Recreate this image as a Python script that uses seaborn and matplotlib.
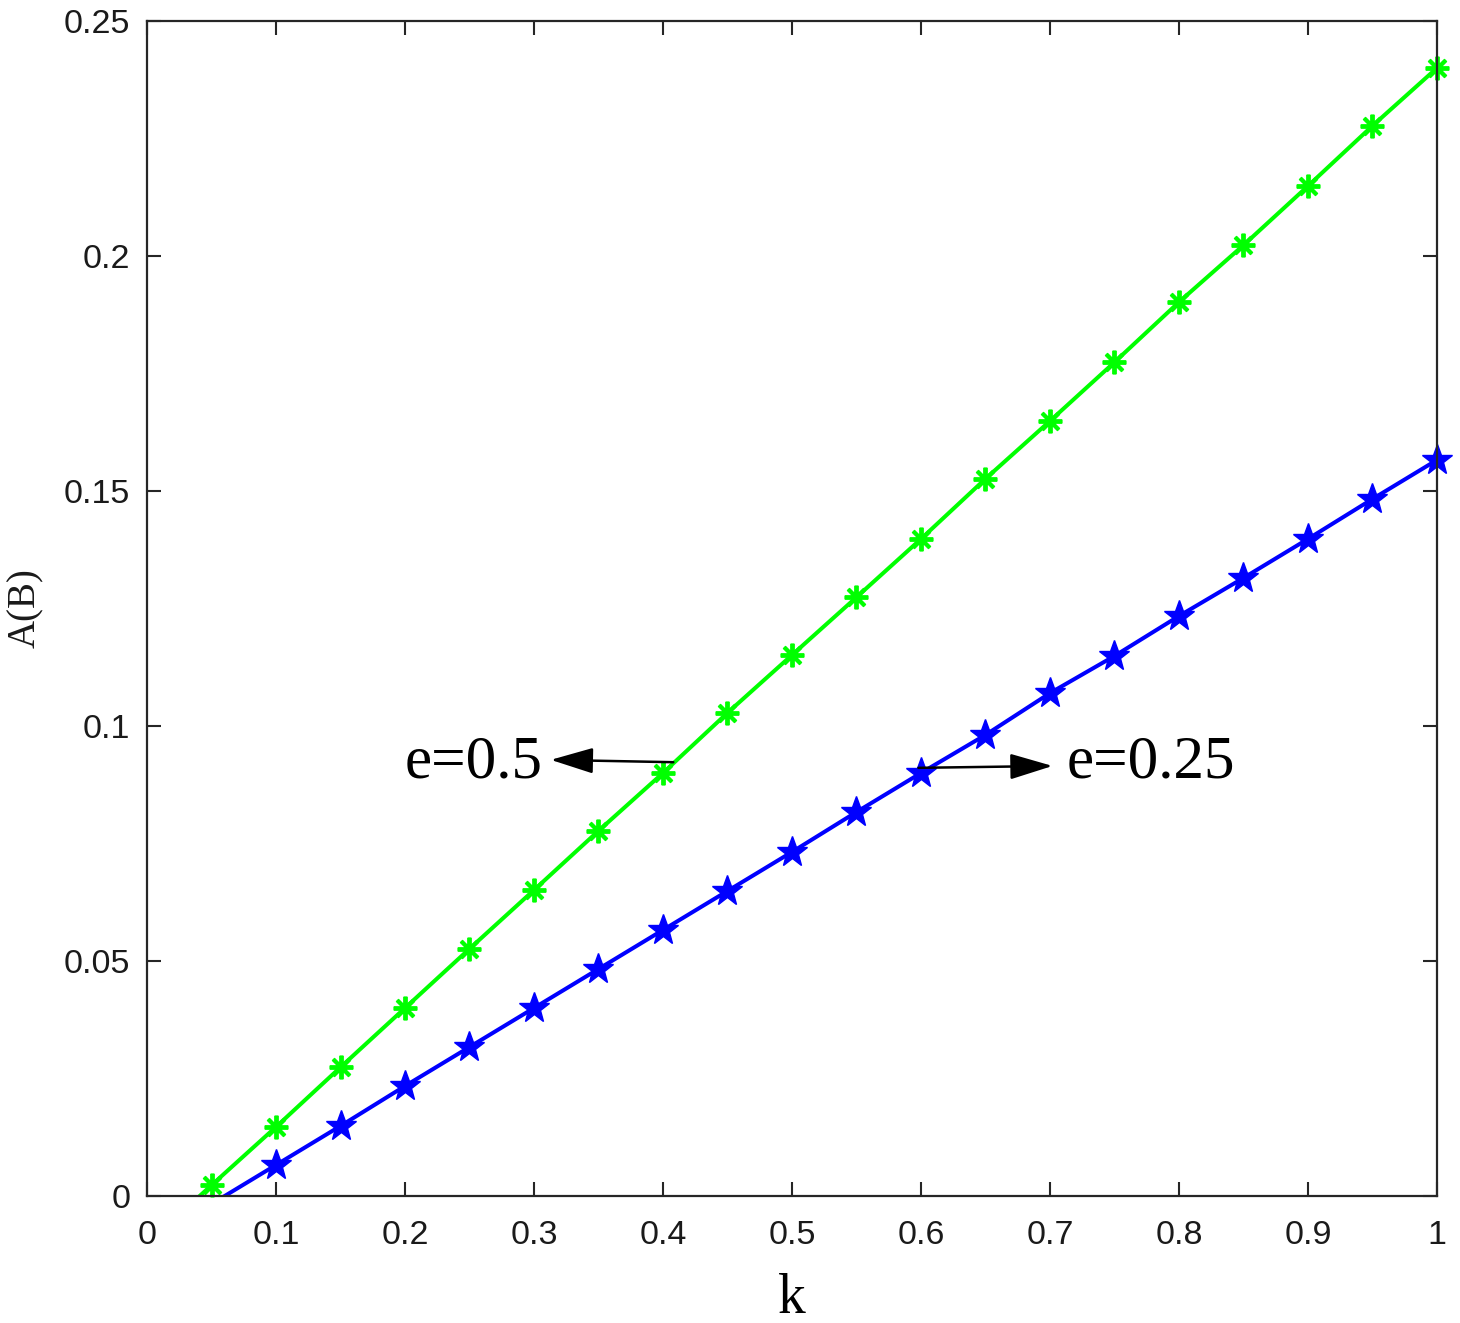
import matplotlib

matplotlib.use("Agg")
import matplotlib.pyplot as plt
import numpy as np
import pandas as pd
import seaborn as sns

# values
k_values = [0.0, 0.05, 0.1, 0.15, 0.2, 0.25, 0.3, 0.35, 0.4, 0.45, 0.5,
            0.55, 0.6, 0.65, 0.7, 0.75, 0.8, 0.85, 0.9, 0.95, 1.0]
a_e050 = [-0.0102, 0.0023, 0.0147, 0.0274, 0.0400, 0.0526, 0.0651, 0.0777,
          0.0900, 0.1028, 0.1151, 0.1274, 0.1398, 0.1526, 0.1649, 0.1774,
          0.1902, 0.2023, 0.2149, 0.2277, 0.2400]
a_e025 = [-0.0100, -0.0017, 0.0066, 0.0149, 0.0234, 0.0317, 0.0400, 0.0483,
          0.0566, 0.0649, 0.0732, 0.0817, 0.0900, 0.0981, 0.1070, 0.1149,
          0.1234, 0.1315, 0.1398, 0.1483, 0.1566]
series_labels = ["e=0.5", "e=0.25"]
x_ticks = [0, 0.1, 0.2, 0.3, 0.4, 0.5, 0.6, 0.7, 0.8, 0.9, 1.0]
x_tick_labels = ["0", "0.1", "0.2", "0.3", "0.4", "0.5", "0.6", "0.7", "0.8", "0.9", "1"]
y_ticks = [0, 0.05, 0.1, 0.15, 0.2, 0.25]
y_tick_labels = ["0", "0.05", "0.1", "0.15", "0.2", "0.25"]

frame = pd.DataFrame({
    "k": k_values * 2,
    "A": a_e050 + a_e025,
    "series": [series_labels[0]] * len(k_values) + [series_labels[1]] * len(k_values),
})
palette = {"e=0.5": "#00FF00", "e=0.25": "#0000FF"}

sns.set_theme(style="white")
plt.rcParams["font.family"] = ["Liberation Sans", "DejaVu Sans"]
plt.rcParams["text.color"] = "black"

fig = plt.figure(figsize=(14.6, 13.23), dpi=100)
ax = fig.add_axes([0.1007, 0.096, 0.8835, 0.8881])

sns.lineplot(data=frame, x="k", y="A", hue="series", palette=palette,
             linewidth=2.9, legend=False, ax=ax)

# MATLAB does not draw markers that fall outside the limits
visible = frame[frame["A"] >= 0]
green_pts = visible[visible["series"] == "e=0.5"]
blue_pts = visible[visible["series"] == "e=0.25"]
ax.plot(green_pts["k"], green_pts["A"], linestyle="none", marker=(8, 2, 0),
        markersize=17, markeredgewidth=2.8, color="#00FF00", clip_on=False)
ax.plot(blue_pts["k"], blue_pts["A"], linestyle="none", marker="*",
        markersize=23, color="#0000FF", clip_on=False)

ax.set_xlim(0, 1)
ax.set_ylim(0, 0.25)
ax.set_xticks(x_ticks)
ax.set_xticklabels(x_tick_labels)
ax.set_yticks(y_ticks)
ax.set_yticklabels(y_tick_labels)
ax.tick_params(direction="in", length=10, width=1.5, labelsize=24.5,
               top=True, right=True, bottom=True, left=True,
               color="#262626", labelcolor="#1a1a1a")
ax.tick_params(axis="x", pad=17)
ax.tick_params(axis="y", pad=12)
for spine in ax.spines.values():
    spine.set_visible(True)
    spine.set_color("#262626")
    spine.set_linewidth(1.6)

serif = ["Liberation Serif", "DejaVu Serif"]
ax.set_xlabel("k", family=serif, fontsize=40, labelpad=16, color="black")
ax.set_ylabel("A(B)", family=serif, fontsize=28, labelpad=14, color="#1a1a1a")

arrow = dict(arrowstyle="-|>,head_length=0.66,head_width=0.2", color="black",
             lw=1.8, shrinkA=0, shrinkB=0, mutation_scale=40)
ax.annotate("", xy=(0.313, 0.0928), xytext=(0.408, 0.0923), arrowprops=arrow)
ax.text(0.2, 0.0922, "e=0.5", family=serif, fontsize=44, ha="left", va="center")
ax.annotate("", xy=(0.702, 0.0915), xytext=(0.598, 0.0911), arrowprops=arrow)
ax.text(0.713, 0.0922, "e=0.25", family=serif, fontsize=44, ha="left", va="center")

fig.savefig("out.png", dpi=100, facecolor="white")
